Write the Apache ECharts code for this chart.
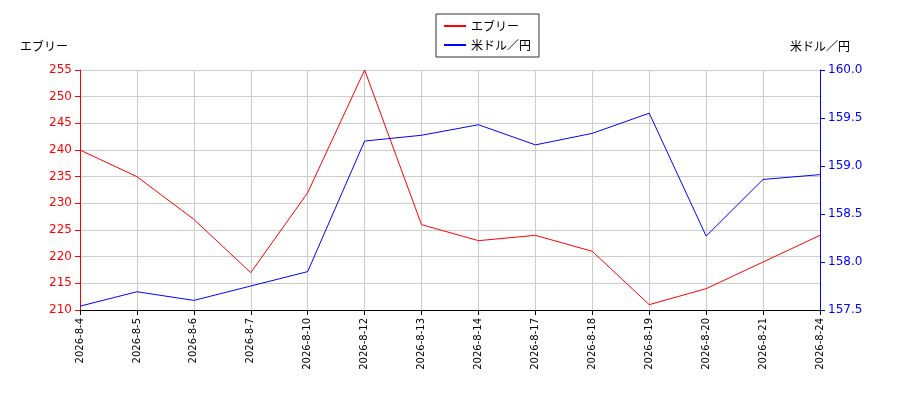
<!DOCTYPE html>
<html><head><meta charset="utf-8">
<script src="https://cdn.jsdelivr.net/npm/echarts@6/dist/echarts.min.js"></script>
<style>body{margin:0}#c{width:900px;height:400px}</style></head>
<body><div id="c"></div>
<script>
const categories=['2026-8-4','2026-8-5','2026-8-6','2026-8-7','2026-8-10','2026-8-12','2026-8-13','2026-8-14','2026-8-17','2026-8-18','2026-8-19','2026-8-20','2026-8-21','2026-8-24'];
const everyValues=[240,235,227,217,232,255,226,223,224,221,211,214,219,224];
const usdJpyValues=[157.54,157.69,157.6,157.75,157.9,159.26,159.32,159.43,159.22,159.34,159.55,158.27,158.86,158.91];
const font='"Noto Sans CJK JP", "DejaVu Sans", sans-serif';
const chart=echarts.init(document.getElementById('c'));
chart.setOption({
  animation:false,
  textStyle:{fontFamily:font},
  legend:{top:14,left:436,orient:'vertical',itemWidth:22,itemHeight:2,borderColor:'#333',borderWidth:1,borderRadius:0,padding:[6,8],itemGap:7,
    textStyle:{fontSize:12,color:'#000',fontFamily:font},
    data:[{name:'エブリー',icon:'rect'},{name:'米ドル／円',icon:'rect'}]},
  grid:{left:80,right:80,top:70,bottom:90},
  xAxis:{type:'category',data:categories,boundaryGap:false,
    axisLine:{lineStyle:{color:'#000'}},axisTick:{lineStyle:{color:'#000'}},
    axisLabel:{rotate:90,fontSize:10,color:'#000',fontFamily:'DejaVu Sans'},
    splitLine:{show:true,lineStyle:{color:'#ccc'}}},
  yAxis:[
    {type:'value',min:210,max:255,interval:5,name:'エブリー',nameLocation:'end',nameGap:18,
     nameTextStyle:{color:'#000',fontSize:12,align:'right',padding:[0,12,0,0]},
     axisLine:{show:true,lineStyle:{color:'red'}},axisTick:{show:true,lineStyle:{color:'red'}},
     axisLabel:{color:'red',fontSize:12,fontFamily:'DejaVu Sans'},
     splitLine:{show:true,lineStyle:{color:'#ccc'}}},
    {type:'value',min:157.5,max:160,interval:0.5,name:'米ドル／円',nameLocation:'end',nameGap:18,
     nameTextStyle:{color:'#000',fontSize:12,align:'right',padding:[0,-30,0,0]},
     axisLine:{show:true,lineStyle:{color:'blue'}},axisTick:{show:true,lineStyle:{color:'blue'}},
     axisLabel:{color:'blue',fontSize:12,fontFamily:'DejaVu Sans',formatter:v=>v.toFixed(1)},
     splitLine:{show:false}}
  ],
  series:[
    {name:'エブリー',type:'line',data:everyValues,yAxisIndex:0,symbol:'none',lineStyle:{color:'red',width:1},itemStyle:{color:'red'}},
    {name:'米ドル／円',type:'line',data:usdJpyValues,yAxisIndex:1,symbol:'none',lineStyle:{color:'blue',width:1},itemStyle:{color:'blue'}}
  ]
});
</script></body></html>
